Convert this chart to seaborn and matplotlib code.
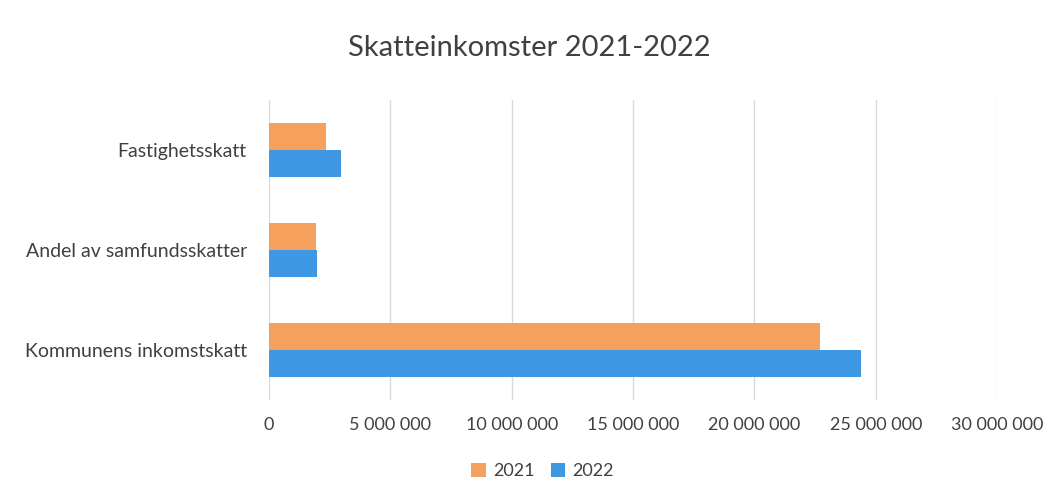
import pandas as pd
import matplotlib.pyplot as plt
import seaborn as sns
from matplotlib.ticker import FuncFormatter

# Data
kategorier = ['Fastighetsskatt', 'Andel av samfundsskatter', 'Kommunens inkomstskatt']
ar = ['2021', '2022']
varden_2021 = [2350000, 1930000, 22700000]
varden_2022 = [2960000, 1980000, 24400000]
tick_varden = [0, 5000000, 10000000, 15000000, 20000000, 25000000, 30000000]

df = pd.DataFrame({
    'kategori': kategorier * 2,
    'år': [ar[0]] * 3 + [ar[1]] * 3,
    'värde': varden_2021 + varden_2022,
})

sns.set_style('white')
plt.rcParams['font.family'] = ['Lato', 'DejaVu Sans']

fig = plt.figure(figsize=(10.59, 5), dpi=100)
ax = fig.add_axes([0.254, 0.2, 0.6875, 0.6])

sns.barplot(data=df, x='värde', y='kategori', hue='år', orient='h',
            palette=['#F5A05C', '#3F98E4'], saturation=1, linewidth=0,
            width=0.54, ax=ax, order=kategorier, hue_order=ar, legend=True)

ax.set_xlim(0, 30000000)
ax.set_ylim(2.5, -0.5)
ax.set_xticks(tick_varden)
ax.xaxis.set_major_formatter(FuncFormatter(lambda v, p: f'{int(v):,}'.replace(',', ' ')))
ax.grid(axis='x', color='#d9d9d9', linewidth=1)
ax.set_axisbelow(True)
for s in ax.spines.values():
    s.set_visible(False)
ax.tick_params(axis='both', length=0, labelcolor='#404040')
ax.tick_params(axis='x', pad=12, labelsize=13)
ax.tick_params(axis='y', pad=16, labelsize=14)
ax.set_xlabel('')
ax.set_ylabel('')

fig.suptitle('Skatteinkomster 2021-2022', y=0.93, fontsize=21, color='#404040')
ax.legend(loc='upper center', bbox_to_anchor=(0.376, -0.155), ncol=2, frameon=False,
          fontsize=13, handlelength=0.8, handleheight=0.8, columnspacing=0.9,
          handletextpad=0.4, labelcolor='#404040')

fig.savefig('out.png', dpi=100)
